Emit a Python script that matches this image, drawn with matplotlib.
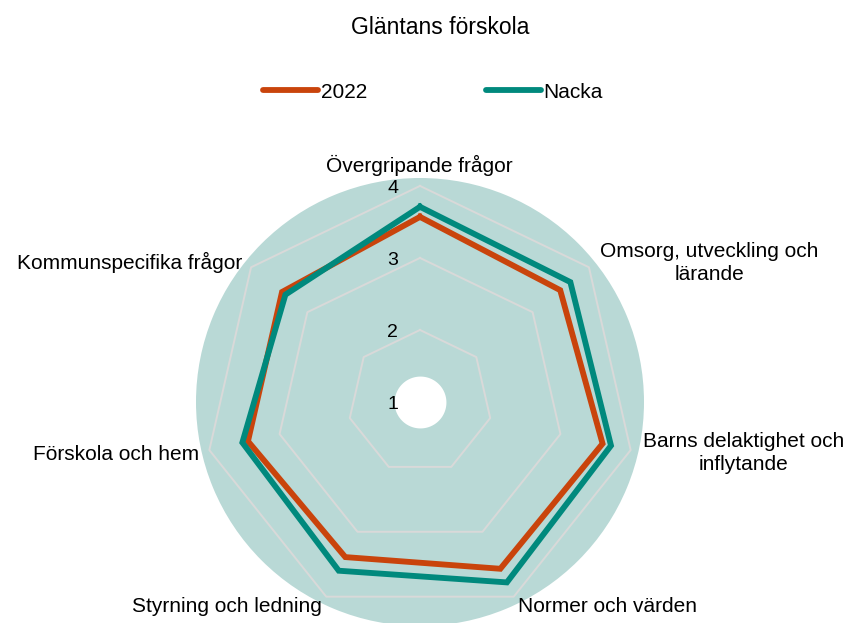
import numpy as np
import matplotlib
matplotlib.use("Agg")
import matplotlib.pyplot as plt
from matplotlib.lines import Line2D

plt.rcParams['font.family'] = ['Liberation Sans', 'DejaVu Sans']

categories = ["Övergripande frågor", "Omsorg, utveckling och\nlärande",
              "Barns delaktighet och\ninflytande", "Normer och värden",
              "Styrning och ledning", "Förskola och hem",
              "Kommunspecifika frågor"]
values_2022 = [3.57, 3.49, 3.60, 3.57, 3.39, 3.45, 3.45]
values_nacka = [3.71, 3.67, 3.72, 3.78, 3.60, 3.53, 3.39]
ring_values = [2, 3, 4]
tick_values = [1, 2, 3, 4]

orange = '#C9440C'
teal = '#00897D'
bg = '#B9D9D6'
grid_col = '#D9D9D9'

fig = plt.figure(figsize=(8.5, 6.23), dpi=100)
ax = fig.add_axes([196 / 850, -3 / 623, 448 / 850, 448 / 623], projection='polar')
ax.set_theta_zero_location('N')
ax.set_theta_direction(-1)
ax.set_ylim(1, 4.11)
ax.set_facecolor(bg)
ax.spines['polar'].set_visible(False)
ax.grid(False)
ax.set_xticks([])
ax.set_yticks([])

n = len(categories)
angles = np.arange(n) * 2 * np.pi / n
closed = np.append(angles, angles[0])

for r in ring_values:
    ax.plot(closed, [r] * (n + 1), color=grid_col, lw=1.4, zorder=1)

# white hole in the middle
th = np.linspace(0, 2 * np.pi, 200)
ax.fill_between(th, 1, 1.36, color='white', zorder=2, lw=0)

ax.plot(closed, values_2022 + values_2022[:1], color=orange, lw=4.2,
        solid_joinstyle='miter', zorder=3)
ax.plot(closed, values_nacka + values_nacka[:1], color=teal, lw=4.2,
        solid_joinstyle='miter', zorder=4)

for v in tick_values:
    ax.annotate(str(v), xy=(0, v), xytext=(-19.5, -1.5), textcoords='offset points',
                ha='center', va='center', fontsize=14, zorder=5)

# category labels (figure pixel positions)
label_pos = [(419, 165, 'center'), (709, 263, 'center'), (744, 453, 'center'),
             (518, 606, 'left'), (322, 606, 'right'), (199, 454, 'right'),
             (242, 262, 'right')]
for lab, (px, py, ha) in zip(categories, label_pos):
    fig.text(px / 850, 1 - py / 623, lab, ha=ha, va='center', fontsize=15,
             multialignment='center', linespacing=1.25)

fig.text(440 / 850, 1 - 27 / 623, "Gläntans förskola", ha='center', va='center', fontsize=16.5)

handles = [Line2D([], [], color=orange, lw=4.2, solid_capstyle='round'),
           Line2D([], [], color=teal, lw=4.2, solid_capstyle='round')]
fig.legend(handles, ['2022', 'Nacka'], loc='center', bbox_to_anchor=(433 / 850, 1 - 92 / 623),
           ncol=2, frameon=False, fontsize=15, handlelength=2.64, handletextpad=0.12,
           columnspacing=5.7)

fig.savefig('out.png', dpi=100)
